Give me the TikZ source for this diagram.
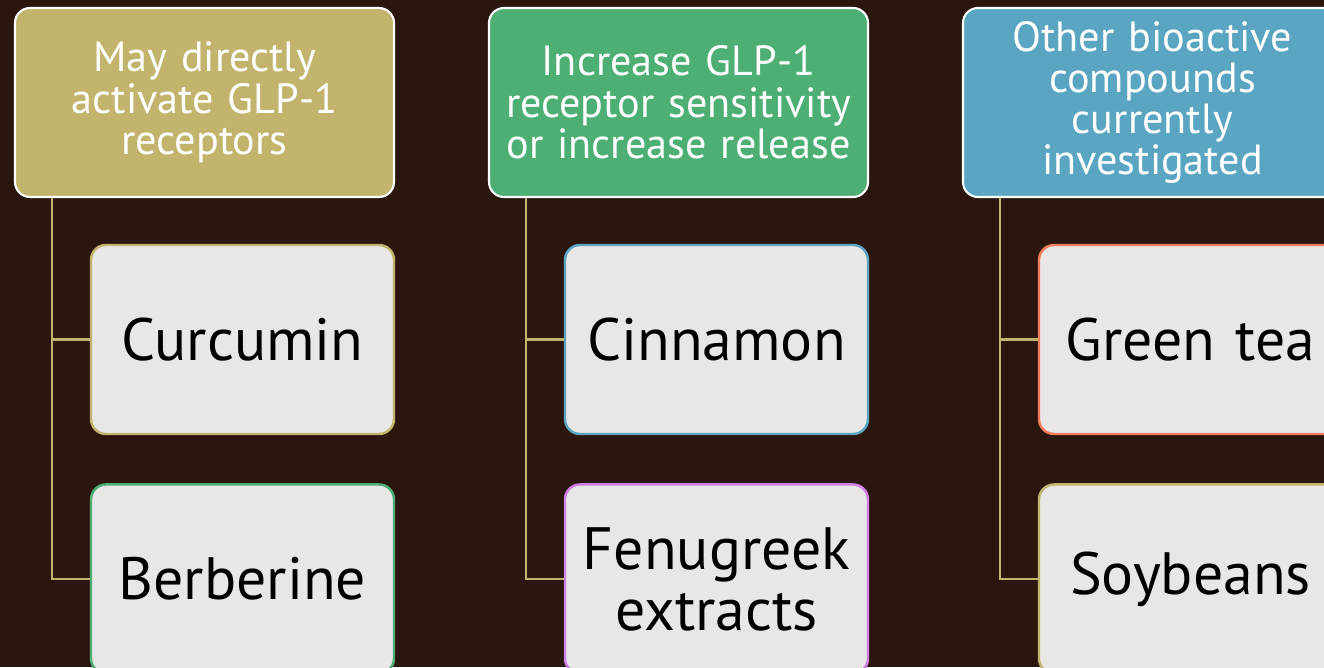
\documentclass[tikz,border=0pt]{standalone}
\usepackage{fontspec}
\setmainfont{PT Sans}
\usetikzlibrary{positioning, calc}
\definecolor{bgbrown}{HTML}{2B160E}
\definecolor{glpkhaki}{HTML}{C2B46C}
\definecolor{glpgreen}{HTML}{4DAF73}
\definecolor{glpblue}{HTML}{5AA6C2}
\definecolor{glpviolet}{HTML}{D07FE6}
\definecolor{glporange}{HTML}{F47C5C}
\definecolor{cardgray}{HTML}{E8E7E6}
\tikzset{
    groupbox/.style={rectangle, rounded corners=0.3cm, draw=white, fill=#1, minimum width=7.58cm, minimum height=3.78cm, text width=7.3cm, align=center, text=white, font=\fontsize{24}{23.5}\selectfont, line width=1.2pt, inner sep=0pt},
    itembox/.style={rectangle, rounded corners=0.3cm, draw=#1, fill=cardgray, minimum width=6.06cm, minimum height=3.78cm, text width=5.9cm, align=center, text=black, font=\fontsize{34}{34.7}\selectfont, line width=1.4pt, inner sep=0pt},
    link/.style={draw=glpkhaki, line width=1.4pt}
}
\begin{document}
\begin{tikzpicture}
    \useasboundingbox (0,0) rectangle (26.48,-13.34);
    \clip (0,0) rectangle (26.48,-13.34);
    \fill[bgbrown] (0,0) rectangle (26.48,-13.34);
    % groups
    \node[groupbox=glpkhaki] at (4.09,-2.05) (g1) {May directly\\activate GLP-1\\receptors};
    \node[groupbox=glpgreen] at (13.57,-2.05) (g2) {Increase GLP-1\\receptor sensitivity\\or increase release};
    \node[groupbox=glpblue] at (23.05,-2.05) (g3) {Other bioactive\\compounds\\currently\\investigated};
    % items
    \node[itembox=glpkhaki] at (4.85,-6.79) (c1) {Curcumin};
    \node[itembox=glpgreen, below=0.96cm of c1] (c2) {Berberine};
    \node[itembox=glpblue] at (14.33,-6.79) (c3) {Cinnamon};
    \node[itembox=glpviolet, below=0.96cm of c3] (c4) {Fenugreek\\extracts};
    \node[itembox=glporange] at (23.81,-6.79) (c5) {Green tea};
    \node[itembox=glpkhaki, below=0.96cm of c5] (c6) {Soybeans};
    % connectors
    \draw[link] ([xshift=0.76cm]g1.south west) |- (c2.west);
    \draw[link] ([xshift=0.76cm]g1.south west) |- (c1.west);
    \draw[link] ([xshift=0.76cm]g2.south west) |- (c4.west);
    \draw[link] ([xshift=0.76cm]g2.south west) |- (c3.west);
    \draw[link] ([xshift=0.76cm]g3.south west) |- (c6.west);
    \draw[link] ([xshift=0.76cm]g3.south west) |- (c5.west);
\end{tikzpicture}
\end{document}
